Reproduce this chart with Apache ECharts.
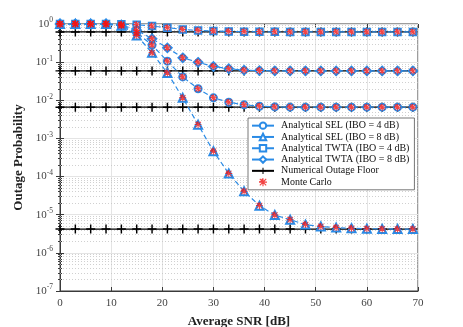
<!DOCTYPE html>
<html>
<head>
<meta charset="utf-8">
<script src="https://cdn.jsdelivr.net/npm/echarts@6/dist/echarts.min.js"></script>
<style>
html, body { margin: 0; padding: 0; background: #fff; }
#chart { width: 463px; height: 327px; }
</style>
</head>
<body>
<div id="chart"></div>
<script>
// Average SNR points [dB]
const snr = [0, 3, 6, 9, 12, 15, 18, 21, 24, 27, 30, 33, 36, 39, 42, 45, 48, 51, 54, 57, 60, 63, 66, 69];

// Analytical curves
const selIbo4 = [1, 1, 1, 1, 0.93, 0.59, 0.28, 0.106, 0.041, 0.020, 0.0116, 0.0089, 0.0076, 0.0070, 0.0067, 0.0066, 0.0066, 0.0066, 0.0066, 0.0066, 0.0066, 0.0066, 0.0066, 0.0066];
const selIbo8 = [1, 1, 1, 1, 0.9, 0.50, 0.175, 0.052, 0.0116, 0.0023, 4.6e-4, 1.2e-4, 4.1e-5, 1.73e-5, 9.8e-6, 7.4e-6, 5.5e-6, 4.9e-6, 4.6e-6, 4.4e-6, 4.3e-6, 4.25e-6, 4.2e-6, 4.2e-6];
const twtaIbo4 = [1, 1, 1, 1, 0.98, 0.96, 0.88, 0.80, 0.72, 0.68, 0.655, 0.64, 0.63, 0.625, 0.622, 0.62, 0.62, 0.62, 0.62, 0.62, 0.62, 0.62, 0.62, 0.62];
const twtaIbo8 = [1, 1, 1, 1, 0.95, 0.69, 0.41, 0.237, 0.13, 0.099, 0.077, 0.067, 0.0615, 0.060, 0.059, 0.059, 0.059, 0.059, 0.059, 0.059, 0.059, 0.059, 0.059, 0.059];

// Numerical outage floors
const floors = [0.62, 0.059, 0.0066, 4.2e-6];

// y-axis decades and minor gridlines
const decades = [-7, -6, -5, -4, -3, -2, -1, 0];
const minorSteps = [2, 3, 4, 5, 6, 7, 8, 9];

const blue = '#2a8be6';
const red = '#f01515';
const serif = 'Liberation Serif';

const plusPath = 'path://M4.2,0H5.8V4.2H10V5.8H5.8V10H4.2V5.8H0V4.2H4.2Z';
const starPath = 'path://M4.3,0H5.7V4.3H10V5.7H5.7V10H4.3V5.7H0V4.3Z' +
    'M1.5,0.5L5,4L8.5,0.5L9.5,1.5L6,5L9.5,8.5L8.5,9.5L5,6L1.5,9.5L0.5,8.5L4,5L0.5,1.5Z';

function pairs(ys) {
    return snr.map((x, i) => [x, ys[i]]);
}

const minorLines = [];
decades.slice(0, -1).forEach(d => {
    minorSteps.forEach(m => minorLines.push({ yAxis: m * Math.pow(10, d) }));
});

const curves = [
    { name: 'Analytical SEL (IBO = 4 dB)', data: selIbo4, symbol: 'emptyCircle', size: 7 },
    { name: 'Analytical SEL (IBO = 8 dB)', data: selIbo8, symbol: 'emptyTriangle', size: 8 },
    { name: 'Analytical TWTA (IBO = 4 dB)', data: twtaIbo4, symbol: 'emptyRect', size: 6.5 },
    { name: 'Analytical TWTA (IBO = 8 dB)', data: twtaIbo8, symbol: 'emptyDiamond', size: 8.5 }
];

const series = [];

floors.forEach((f, k) => {
    const s = {
        name: 'Numerical Outage Floor',
        type: 'line',
        data: snr.map(x => [x, f]),
        symbol: plusPath,
        symbolSize: 9,
        itemStyle: { color: '#000' },
        lineStyle: { color: '#000', width: 1.2 },
        z: 2
    };
    if (k === 0) {
        // dotted minor grid, 2..9 within each decade
        s.markLine = {
            silent: true,
            precision: 12,
            symbol: 'none',
            label: { show: false },
            lineStyle: { color: '#c4c4c4', type: [1, 2], width: 0.8 },
            data: minorLines,
            z: 1
        };
    }
    series.push(s);
});

curves.forEach(c => {
    series.push({
        name: c.name,
        type: 'line',
        data: pairs(c.data),
        symbol: c.symbol,
        symbolSize: c.size,
        itemStyle: { color: blue, borderWidth: 1.2 },
        lineStyle: { color: blue, width: 1.2, type: [5, 3] },
        z: 3
    });
});

curves.forEach(c => {
    series.push({
        name: 'Monte Carlo',
        type: 'scatter',
        data: pairs(c.data),
        symbol: starPath,
        symbolSize: 7,
        itemStyle: { color: red },
        z: 4
    });
});

const chart = echarts.init(document.getElementById('chart'));

const tickStyle = { color: '#3a3a3a' };

chart.setOption({
    animation: false,
    backgroundColor: '#fff',
    grid: {
        left: 60, right: 45, top: 24, bottom: 36,
        outerBoundsMode: 'none',
        containLabel: false,
        show: true, borderColor: '#3a3a3a', borderWidth: 1
    },
    legend: {
        data: curves.map(c => c.name).concat(['Numerical Outage Floor', 'Monte Carlo']),
        orient: 'vertical',
        left: 248, top: 118,
        padding: [2, 5, 2, 3],
        itemGap: 0,
        itemWidth: 22,
        itemHeight: 8,
        backgroundColor: '#fff',
        borderColor: '#555',
        borderWidth: 0.8,
        borderRadius: 0,
        lineStyle: { type: 'solid' },
        textStyle: { fontFamily: serif, fontSize: 10, lineHeight: 11.3, color: '#111', padding: [0, 0, 0, 2] }
    },
    xAxis: [{
        type: 'value',
        min: 0, max: 70, interval: 10,
        name: 'Average SNR [dB]',
        nameLocation: 'middle',
        nameGap: 24,
        nameTextStyle: { fontFamily: serif, fontSize: 13, fontWeight: 'bold', color: '#222' },
        axisLine: { lineStyle: tickStyle },
        axisTick: { inside: true, length: 4, lineStyle: tickStyle },
        axisLabel: { fontFamily: serif, fontSize: 11, color: '#444', margin: 7 },
        splitLine: { show: true, lineStyle: { color: '#e4e4e4', width: 1 } }
    }, {
        type: 'value', position: 'top',
        min: 0, max: 70, interval: 10,
        axisLine: { show: false },
        axisTick: { inside: true, length: 4, lineStyle: tickStyle },
        axisLabel: { show: false },
        splitLine: { show: false }
    }],
    yAxis: [{
        type: 'log',
        logBase: 10,
        min: 1e-7, max: 1,
        name: 'Outage Probability',
        nameLocation: 'middle',
        nameGap: 33,
        nameTextStyle: { fontFamily: serif, fontSize: 13, fontWeight: 'bold', color: '#222' },
        axisLine: { show: true, lineStyle: tickStyle },
        axisTick: { inside: true, length: 4, lineStyle: tickStyle },
        minorTick: { show: true, splitNumber: 9, length: 2, lineStyle: tickStyle },
        axisLabel: {
            margin: 7,
            formatter: v => '{b|10}{s|' + Math.round(Math.log10(v)) + '}',
            rich: {
                b: { fontFamily: serif, fontSize: 11, color: '#444' },
                s: { fontFamily: serif, fontSize: 7.5, color: '#444', padding: [0, 0, 7, 0] }
            }
        },
        splitLine: { show: true, lineStyle: { color: '#e4e4e4', width: 1 } }
    }, {
        type: 'log',
        logBase: 10,
        min: 1e-7, max: 1,
        position: 'right',
        axisLine: { show: false },
        axisTick: { inside: true, length: 4, lineStyle: tickStyle },
        minorTick: { show: true, splitNumber: 9, length: 2, lineStyle: tickStyle },
        axisLabel: { show: false },
        splitLine: { show: false }
    }],
    series: series
});
</script>
</body>
</html>
